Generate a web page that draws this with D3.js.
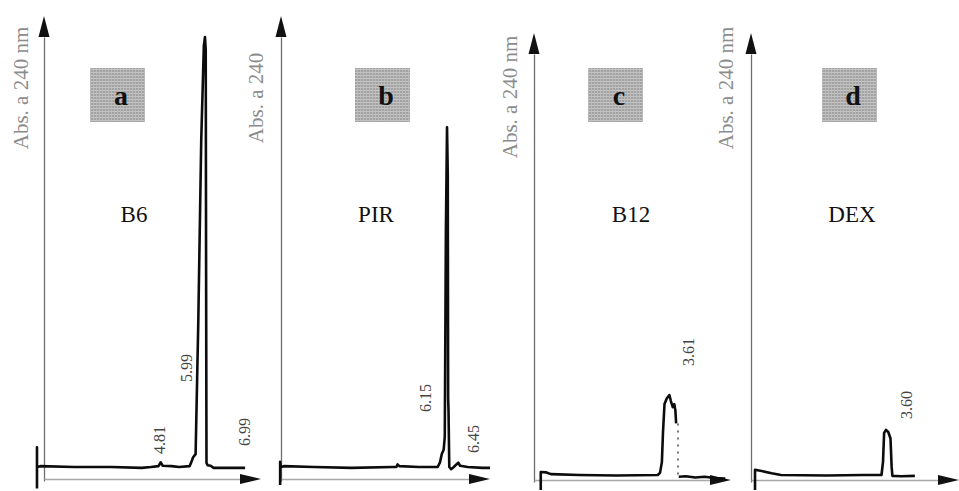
<!DOCTYPE html>
<html>
<head>
<meta charset="utf-8">
<script src="https://cdn.jsdelivr.net/npm/d3@7"></script>
<style>
  html, body { margin: 0; padding: 0; background: #fff; }
  svg { display: block; }
</style>
</head>
<body>
<svg id="chart" width="959" height="491"></svg>
<script>
// ---- data -------------------------------------------------------------
const panelLetters = ["a", "b", "c", "d"];
const compounds = ["B6", "PIR", "B12", "DEX"];
const axisTitles = ["Abs. a 240 nm", "Abs. a 240", "Abs. a 240 nm", "Abs. a 240 nm"];

// retention-time window shown on each x axis (min)
const timeWindows = [[1.697, 7.484], [1.723, 7.296], [0, 5.253], [0, 5.547]];

// retention times annotated on each chromatogram (min)
const retentionTimes = [[4.81, 5.99, 6.99], [6.15, 6.45], [3.61], [3.60]];
const retentionLabels = [["4.81", "5.99", "6.99"], ["6.15", "6.45"], ["3.61"], ["3.60"]];

// detector signals: [time (min), absorbance (a.u.)]
const traceB6 = [
  [1.51, -0.05], [1.51, 0.046], [1.51, 0.0], [1.60, 0.002], [2.5, 0.0], [3.5, 0.0],
  [4.30, -0.002], [4.55, 0.0], [4.75, 0.002], [4.81, 0.011], [4.86, 0.003], [5.10, 0.002],
  [5.30, 0.0], [5.58, 0.002], [5.63, 0.012], [5.67, 0.022], [5.74, 0.03], [5.81, 0.33],
  [5.89, 0.76], [5.96, 0.98], [5.99, 1.0], [6.01, 0.97], [6.02, 0.45], [6.03, 0.01],
  [6.06, 0.004], [6.14, 0.003], [6.22, -0.002], [6.80, -0.002], [7.06, -0.002]
];
const tracePIR = [
  [1.70, -0.042], [1.70, 0.012], [1.72, 0.0], [1.80, 0.002], [2.6, 0.0], [3.6, -0.002],
  [4.70, 0.0], [4.80, 0.0], [4.83, 0.006], [4.88, 0.002], [5.40, 0.0], [5.90, 0.0],
  [5.96, 0.01], [6.01, 0.03], [6.06, 0.04], [6.09, 0.07], [6.12, 0.55], [6.15, 0.79],
  [6.17, 0.68], [6.18, 0.16], [6.19, 0.13], [6.21, 0.0], [6.26, -0.005], [6.33, 0.0],
  [6.40, 0.006], [6.45, 0.01], [6.50, 0.003], [6.70, 0.0], [7.10, -0.002], [7.296, -0.002]
];
const traceB12 = [
  [0.18, -0.035], [0.18, 0.007], [0.33, 0.006], [0.45, 0.002], [1.2, 0.0], [2.2, -0.001],
  [3.30, 0.0], [3.36, 0.005], [3.41, 0.03], [3.44, 0.10], [3.48, 0.165], [3.54, 0.178],
  [3.61, 0.186], [3.65, 0.172], [3.70, 0.158], [3.74, 0.165], [3.77, 0.15], [3.79, 0.12]
];
const traceB12Tail = [
  [3.86, -0.004], [4.05, -0.003], [4.30, -0.006], [4.55, -0.004], [4.80, -0.007], [5.10, -0.008]
];
const traceB12Drop = [[3.84, 0.12], [3.84, -0.004]];
const traceDEX = [
  [0.107, -0.035], [0.107, 0.012], [0.25, 0.01], [0.55, 0.004], [0.80, 0.0], [2.0, -0.001],
  [3.00, 0.0], [3.48, 0.0], [3.52, 0.03], [3.55, 0.098], [3.60, 0.105], [3.66, 0.10],
  [3.72, 0.085], [3.75, 0.02], [3.77, -0.002], [4.00, -0.003], [4.37, -0.002]
];
const traces = [[traceB6], [tracePIR], [traceB12, traceB12Tail], [traceDEX]];
const fastDrops = [[], [], [traceB12Drop], []];

// ---- layout (pixels) ----------------------------------------------------
const PX_PER_AU = 430;
const layout = [
  { axisX: 44,  xEnd: 261, yTip: 16, yAxisBottom: 481, baseY: 467, xAxisY: 479,
    box: [90, 68], title: [21, 88], nameX: 134,
    labels: [[-1, 440], [-18, 368], [2, 432]] },
  { axisX: 281, xEnd: 490, yTip: 16, yAxisBottom: 481, baseY: 467, xAxisY: 479,
    box: [355, 68], title: [256, 98], nameX: 376,
    labels: [[-22, 398], [15, 439]] },
  { axisX: 534, xEnd: 731, yTip: 33, yAxisBottom: 482, baseY: 475, xAxisY: 480,
    box: [588, 68], title: [510, 97], nameX: 631,
    labels: [[19, 352]] },
  { axisX: 751, xEnd: 959, yTip: 33, yAxisBottom: 482, baseY: 475, xAxisY: 480,
    box: [822, 68], title: [726, 88], nameX: 852,
    labels: [[21, 405]] }
];

const svg = d3.select("#chart");
const serif = "'Liberation Serif', 'DejaVu Serif', serif";

// halftone fill for the panel tags
const defs = svg.append("defs");
const pat = defs.append("pattern").attr("id", "halftone")
  .attr("width", 3).attr("height", 3).attr("patternUnits", "userSpaceOnUse");
pat.append("rect").attr("width", 3).attr("height", 3).attr("fill", "#a2a2a2");
pat.append("rect").attr("width", 3).attr("height", 1).attr("fill", "#c6c6c6");
pat.append("rect").attr("width", 1).attr("height", 3).attr("fill", "#bababa");

layout.forEach((L, i) => {
  const g = svg.append("g");
  const x = d3.scaleLinear().domain(timeWindows[i]).range([L.axisX, L.xEnd]);
  const y = d3.scaleLinear().domain([0, 1]).range([L.baseY, L.baseY - PX_PER_AU]);
  const arrowLen = 21;

  // y axis (no ticks), ending in a filled arrowhead
  const yAxisScale = y.copy()
    .domain([y.invert(L.yAxisBottom), y.invert(L.yTip + arrowLen)])
    .range([L.yAxisBottom, L.yTip + arrowLen]);
  const yAxis = g.append("g").attr("transform", `translate(${L.axisX},0)`)
    .call(d3.axisLeft(yAxisScale).tickValues([]).tickSizeOuter(0));
  yAxis.select(".domain").attr("stroke", "#6e6e6e").attr("stroke-width", 1.3);
  g.append("path")
    .attr("d", `M${L.axisX},${L.yTip} L${L.axisX - 5.5},${L.yTip + arrowLen} L${L.axisX + 5.5},${L.yTip + arrowLen} Z`)
    .attr("fill", "#111");

  // x axis (no ticks), ending in a filled arrowhead
  const xAxisScale = x.copy().range([L.axisX, L.xEnd - arrowLen]);
  xAxisScale.domain([timeWindows[i][0], x.invert(L.xEnd - arrowLen)]);
  const xAxis = g.append("g").attr("transform", `translate(0,${L.xAxisY})`)
    .call(d3.axisBottom(xAxisScale).tickValues([]).tickSizeOuter(0));
  xAxis.select(".domain").attr("stroke", "#a8a8a8").attr("stroke-width", 1.3);
  g.append("path")
    .attr("d", `M${L.xEnd},${L.xAxisY} L${L.xEnd - arrowLen},${L.xAxisY - 5} L${L.xEnd - arrowLen},${L.xAxisY + 5} Z`)
    .attr("fill", "#111");

  // axis title
  g.append("text")
    .attr("transform", `translate(${L.title[0]},${L.title[1]}) rotate(-90)`)
    .attr("text-anchor", "middle").attr("dominant-baseline", "central")
    .attr("font-family", serif).attr("font-size", 21).attr("fill", "#8c8c8c")
    .text(axisTitles[i]);

  // panel tag
  g.append("rect").attr("x", L.box[0]).attr("y", L.box[1])
    .attr("width", 55).attr("height", 54).attr("fill", "url(#halftone)");
  g.append("text").attr("x", L.box[0] + 31).attr("y", L.box[1] + 37)
    .attr("text-anchor", "middle").attr("font-family", serif)
    .attr("font-weight", "bold").attr("font-size", 28).attr("fill", "#111")
    .text(panelLetters[i]);

  // compound name
  g.append("text").attr("x", L.nameX).attr("y", 222)
    .attr("text-anchor", "middle").attr("font-family", serif)
    .attr("font-size", 23).attr("fill", "#111").text(compounds[i]);

  // chromatogram
  const line = d3.line().x(d => x(d[0])).y(d => y(d[1]));
  traces[i].forEach(seg => {
    g.append("path").datum(seg).attr("d", line)
      .attr("fill", "none").attr("stroke", "#0c0c0c")
      .attr("stroke-width", 2.6).attr("stroke-linejoin", "round");
  });
  fastDrops[i].forEach(seg => {
    g.append("path").datum(seg).attr("d", line)
      .attr("fill", "none").attr("stroke", "#777")
      .attr("stroke-width", 2).attr("stroke-dasharray", "2,5");
  });

  // retention-time annotations
  retentionTimes[i].forEach((rt, k) => {
    const [dx, cy] = L.labels[k];
    g.append("text")
      .attr("transform", `translate(${x(rt) + dx},${cy}) rotate(-90)`)
      .attr("text-anchor", "middle").attr("dominant-baseline", "central")
      .attr("font-family", serif).attr("font-size", 16).attr("fill", "#444")
      .text(retentionLabels[i][k]);
  });
});
</script>
</body>
</html>
